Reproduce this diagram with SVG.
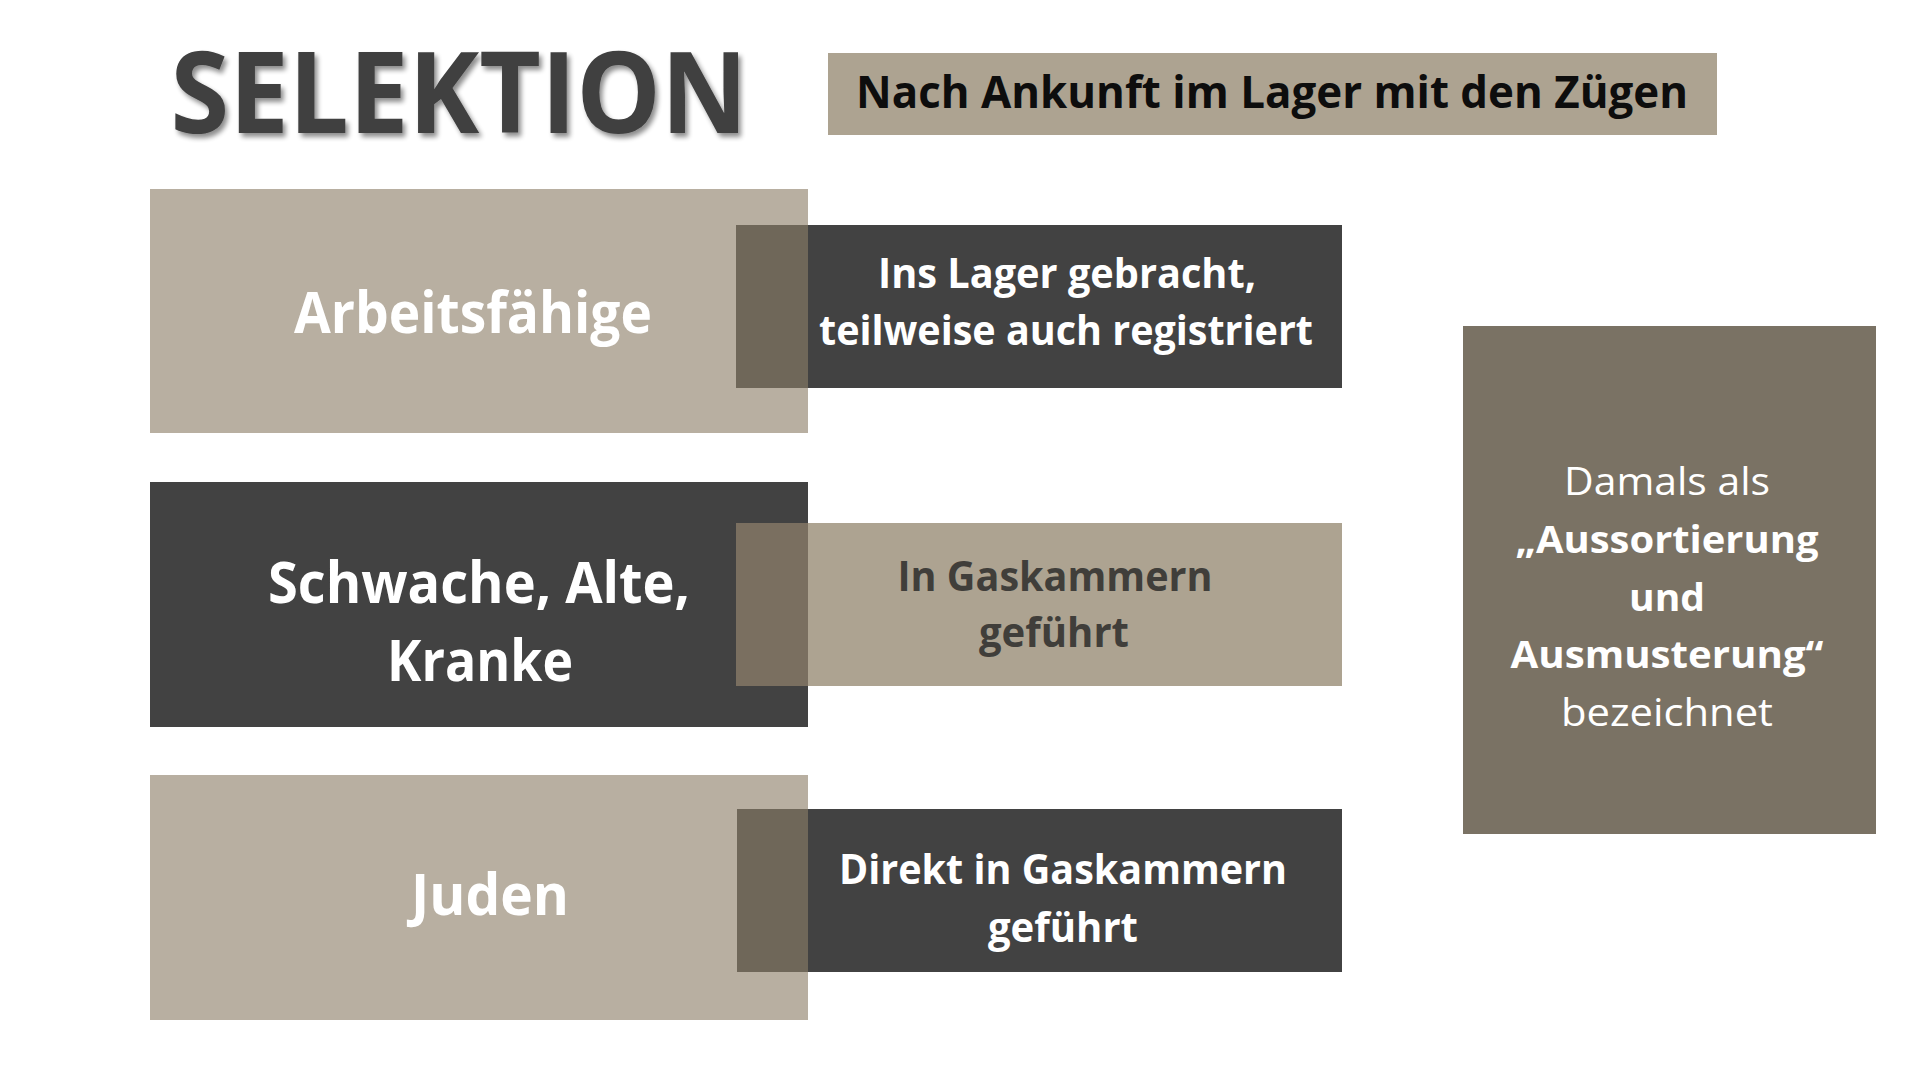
<svg xmlns="http://www.w3.org/2000/svg" width="1918" height="1080" viewBox="0 0 1918 1080">
  <defs>
    <filter id="shadow" x="-10%" y="-20%" width="130%" height="150%">
      <feGaussianBlur in="SourceAlpha" stdDeviation="2.5"/>
      <feOffset dx="3" dy="4" result="b"/>
      <feComponentTransfer><feFuncA type="linear" slope="0.45"/></feComponentTransfer>
      <feMerge><feMergeNode/><feMergeNode in="SourceGraphic"/></feMerge>
    </filter>
  </defs>
  <style>
    text { font-family: "Open Sans", "Noto Sans", "Liberation Sans", sans-serif; text-anchor: middle; }
    .b { font-weight: 700; }
    .r { font-weight: 400; }
    .tan { fill: #B8AFA1; }
    .tan2 { fill: #ADA391; }
    .dark { fill: #424242; }
    .ov1 { fill: #6F6759; }
    .ov2 { fill: #7A6F60; }
    .side { fill: #7A7264; }
    .w { fill: #FFFFFF; }
    .lbl { font-size: 57px; }
    .sub { font-size: 42px; }
    .note { font-size: 38px; }
  </style>
  <rect width="1918" height="1080" fill="#FFFFFF"/>

  <g id="title">
    <text x="459" y="133" class="b" font-size="113" fill="#404040" textLength="577" lengthAdjust="spacingAndGlyphs" filter="url(#shadow)">SELEKTION</text>
  </g>

  <g id="header">
    <rect x="828" y="53" width="889" height="82" class="tan2"/>
    <text x="1272" y="108" class="b" font-size="45" fill="#0D0D0D" textLength="832" lengthAdjust="spacingAndGlyphs">Nach Ankunft im Lager mit den Zügen</text>
  </g>

  <g id="connectors"></g>

  <g id="row1">
    <rect x="150" y="189" width="658" height="244" class="tan"/>
    <rect x="736" y="225" width="606" height="163" class="dark"/>
    <rect x="736" y="225" width="72" height="163" class="ov1"/>
    <text x="473" y="333" class="b lbl w" textLength="358" lengthAdjust="spacingAndGlyphs">Arbeitsfähige</text>
    <text x="1067" y="288" class="b sub w" textLength="378" lengthAdjust="spacingAndGlyphs">Ins Lager gebracht,</text>
    <text x="1066" y="345" class="b sub w" textLength="494" lengthAdjust="spacingAndGlyphs">teilweise auch registriert</text>
  </g>

  <g id="row2">
    <rect x="150" y="482" width="658" height="245" class="dark"/>
    <rect x="736" y="523" width="606" height="163" class="tan2"/>
    <rect x="736" y="523" width="72" height="163" class="ov2"/>
    <text x="479" y="603" class="b lbl w" textLength="422" lengthAdjust="spacingAndGlyphs">Schwache, Alte,</text>
    <text x="480" y="681" class="b lbl w" textLength="186" lengthAdjust="spacingAndGlyphs">Kranke</text>
    <text x="1055" y="591" class="b sub" fill="#403E3A" textLength="315" lengthAdjust="spacingAndGlyphs">In Gaskammern</text>
    <text x="1054" y="647" class="b sub" fill="#403E3A" textLength="150" lengthAdjust="spacingAndGlyphs">geführt</text>
  </g>

  <g id="row3">
    <rect x="150" y="775" width="658" height="245" class="tan"/>
    <rect x="737" y="809" width="605" height="163" class="dark"/>
    <rect x="737" y="809" width="71" height="163" class="ov1"/>
    <text x="490" y="915" class="b lbl w" textLength="158" lengthAdjust="spacingAndGlyphs">Juden</text>
    <text x="1063" y="884" class="b sub w" textLength="448" lengthAdjust="spacingAndGlyphs">Direkt in Gaskammern</text>
    <text x="1063" y="942" class="b sub w" textLength="150" lengthAdjust="spacingAndGlyphs">geführt</text>
  </g>

  <g id="note">
    <rect x="1463" y="326" width="413" height="508" class="side"/>
    <text x="1667" y="495" class="r note w" textLength="206" lengthAdjust="spacingAndGlyphs">Damals als</text>
    <text x="1667" y="553" class="b note w" textLength="303" lengthAdjust="spacingAndGlyphs">„Aussortierung</text>
    <text x="1667" y="611" class="b note w" textLength="76" lengthAdjust="spacingAndGlyphs">und</text>
    <text x="1667" y="668" class="b note w" textLength="313" lengthAdjust="spacingAndGlyphs">Ausmusterung“</text>
    <text x="1667" y="726" class="r note w" textLength="212" lengthAdjust="spacingAndGlyphs">bezeichnet</text>
  </g>
</svg>
